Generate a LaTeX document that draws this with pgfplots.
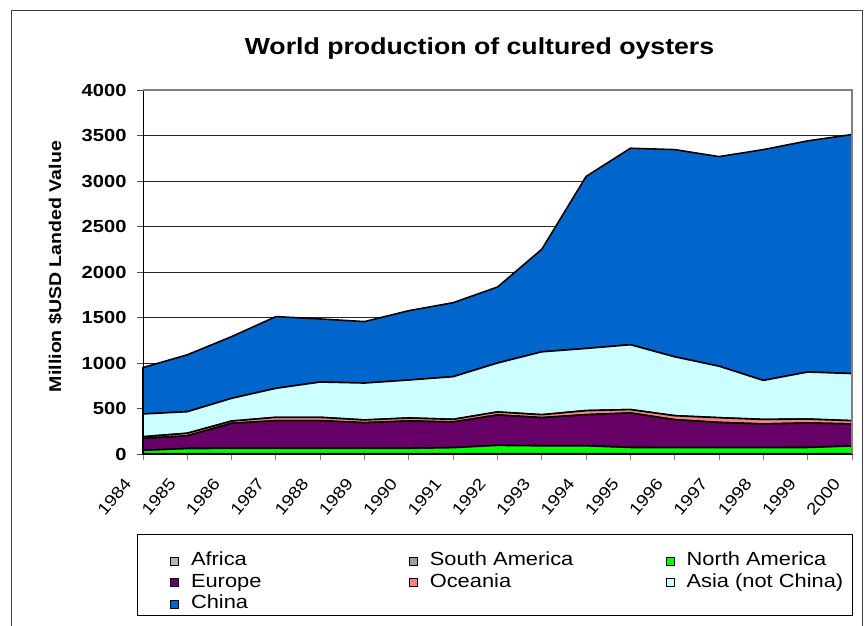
\documentclass[border=0pt]{standalone}
\usepackage{fontspec}
\setmainfont{Liberation Sans}[FakeStretch=1.15]
\usepackage{pgfplots}
\usepackage{pgfplotstable}
\pgfplotsset{compat=1.18}

\definecolor{china}{HTML}{0066CC}
\definecolor{asia}{HTML}{CCFFFF}
\definecolor{oceania}{HTML}{FF8080}
\definecolor{europe}{HTML}{660066}
\definecolor{namerica}{HTML}{00FF00}
\definecolor{samerica}{HTML}{A0A0A0}
\definecolor{africa}{HTML}{B4B4B4}

\pgfplotstableread{
year africa sam nam eur oce asia china
1984 1 2 37 130 20 250 510
1985 1 2 57 140 28 237 625
1986 1 2 59 275 25 250 678
1987 1 2 59 304 37 319 788
1988 1 2 59 304 37 388 693
1989 1 2 59 282 30 406 675
1990 1 2 59 301 33 417 762
1991 1 2 67 282 29 469 813
1992 1 2 92 334 33 538 835
1993 1 2 87 310 32 691 1127
1994 1 2 87 342 45 683 1890
1995 1 2 69 379 37 713 2159
1996 1 2 67 307 44 647 2277
1997 1 2 67 277 52 566 2303
1998 1 2 67 260 50 429 2536
1999 1 2 69 269 43 517 2540
2000 1 2 85 242 36 518 2627
}\oysters

\begin{document}
\begin{tikzpicture}
\useasboundingbox (0pt,0pt) rectangle (864pt,625pt);
\draw[black!75, line width=1pt] (11pt,-20pt) rectangle (862pt,614pt);
\begin{axis}[
  at={(143pt,171pt)}, anchor=south west,
  scale only axis, width=709pt, height=364pt,
  xmin=1984, xmax=2000, ymin=0, ymax=4000,
  clip=false,
  stack plots=y,
  axis lines=left,
  axis line style={-, black, line width=1pt},
  xtick={1984,1985,...,2000},
  ytick={0,500,...,4000},
  tick align=outside,
  major tick length=6pt,
  xtick style={gray, line width=1pt},
  ytick style={black!70, line width=1pt},
  ymajorgrids,
  grid style={black!85, line width=0.9pt},
  /pgf/number format/1000 sep={},
  /pgf/number format/assume math mode=true,
  yticklabel style={font=\fontsize{17.5}{20}\selectfont\bfseries, xshift=-7pt},
  xticklabel style={xshift=-20pt, yshift=-12pt, rotate=50, anchor=north east, font=\fontsize{16.5}{18}\selectfont},
  title={World production of cultured oysters},
  title style={at={(axis description cs:0.4746,1.082)}, anchor=base, font=\fontsize{23.2}{28}\selectfont\bfseries},
  ylabel={Million \$USD Landed Value},
  ylabel style={at={(axis description cs:-0.1234,0.515)}, anchor=center, font=\fontsize{17}{20}\selectfont\bfseries},
  legend columns=3,
  legend cell align=left,
  legend image code/.code={\draw[#1, draw=black, line width=0.8pt] (0pt,-4pt) rectangle (8pt,4pt);},
  legend style={at={(axis description cs:0.0381,-0.2706)}, anchor=north west,
    draw=none, fill=none, inner sep=0pt, row sep=4.5pt,
    nodes={inner sep=0pt, text height=13pt, text depth=4pt, font=\fontsize{19}{22}\selectfont},
    /tikz/every odd column/.style={column sep=12pt},
    /tikz/column 2/.style={text width=218pt},
    /tikz/column 4/.style={text width=236pt}},
]
\draw[gray, line width=1.5pt] (rel axis cs:0,1) -- (rel axis cs:1,1) -- (rel axis cs:1,0);
\addplot[fill=africa, draw=black, line width=1.6pt, line join=round] table[x=year,y=africa] {\oysters} \closedcycle;
\addplot[fill=samerica, draw=black, line width=1.6pt, line join=round] table[x=year,y=sam] {\oysters} \closedcycle;
\addplot[fill=namerica, draw=black, line width=1.6pt, line join=round] table[x=year,y=nam] {\oysters} \closedcycle;
\addplot[fill=europe, draw=black, line width=1.6pt, line join=round] table[x=year,y=eur] {\oysters} \closedcycle;
\addplot[fill=oceania, draw=black, line width=1.6pt, line join=round] table[x=year,y=oce] {\oysters} \closedcycle;
\addplot[fill=asia, draw=black, line width=1.6pt, line join=round] table[x=year,y=asia] {\oysters} \closedcycle;
\addplot[fill=china, draw=black, line width=1.6pt, line join=round] table[x=year,y=china] {\oysters} \closedcycle;
\legend{Africa, South America, North America, Europe, Oceania, Asia (not China), China}
\draw[black, line width=0.8pt] (axis description cs:-0.00846,-0.2198) rectangle (axis description cs:1,-0.4423);
\end{axis}
\end{tikzpicture}
\end{document}
